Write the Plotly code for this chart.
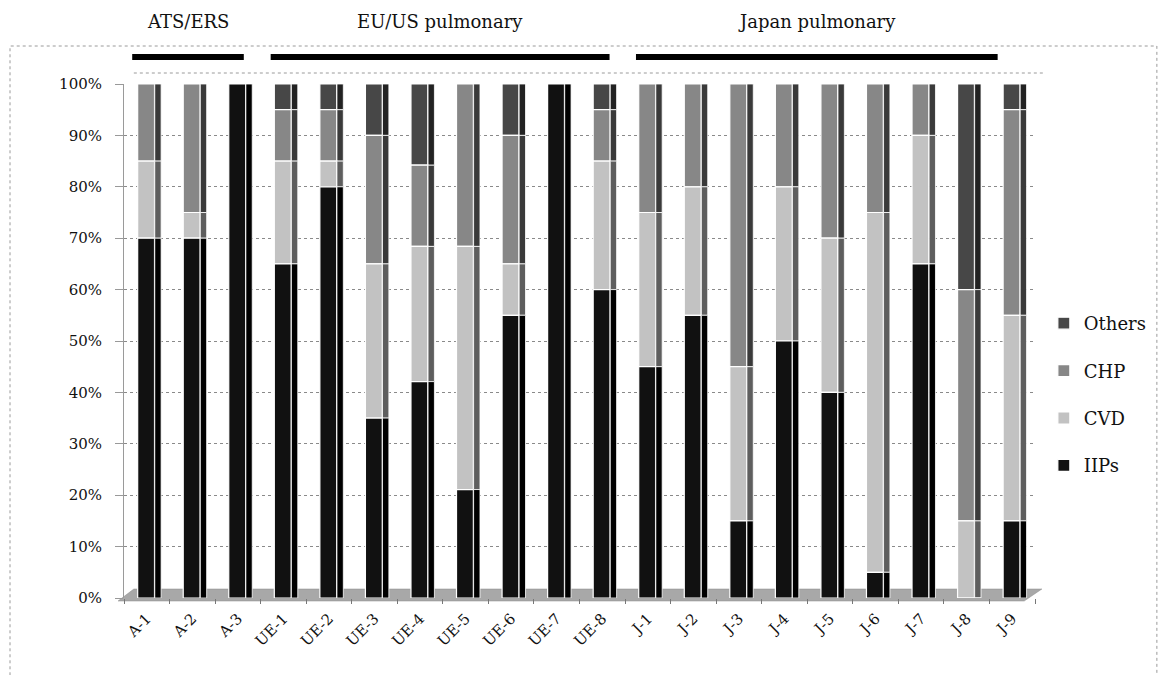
import numpy as np
import plotly.graph_objects as go

categories = ["A-1", "A-2", "A-3", "UE-1", "UE-2", "UE-3", "UE-4", "UE-5", "UE-6", "UE-7", "UE-8",
              "J-1", "J-2", "J-3", "J-4", "J-5", "J-6", "J-7", "J-8", "J-9"]
iips   = [70, 70, 100, 65, 80, 35, 42.1, 21.1, 55, 100, 60, 45, 55, 15, 50, 40, 5, 65, 0, 15]
cvd    = [15, 5, 0, 20, 5, 30, 26.3, 47.3, 10, 0, 25, 30, 25, 30, 30, 30, 70, 25, 15, 40]
chp    = [15, 25, 0, 10, 10, 25, 15.8, 31.6, 25, 0, 10, 25, 20, 55, 20, 30, 25, 10, 45, 40]
others = [0, 0, 0, 5, 5, 10, 15.8, 0, 10, 0, 5, 0, 0, 0, 0, 0, 0, 0, 40, 5]

series_names = ["IIPs", "CVD", "CHP", "Others"]
face_colors = ["#111111", "#c2c2c2", "#878787", "#474747"]
side_colors = ["#000000", "#5e5e5e", "#3a3a3a", "#222222"]

group_names = ["ATS/ERS", "EU/US pulmonary", "Japan pulmonary"]
group_spans = [(-0.32, 2.13), (2.72, 10.16), (10.74, 18.68)]

W, H = 1164, 675
ML, MR, MT, MB = 124, 113, 84, 77
PW, PH = W - ML - MR, H - MT - MB

def px_x(p):
    return (p - ML) / PW

def px_y(p):
    return (H - MB - p) / PH

values = np.array([iips, cvd, chp, others], dtype=float) / 100.0
bases = np.vstack([np.zeros(len(categories)), np.cumsum(values, axis=0)[:-1]])

fig = go.Figure()
serif = "DejaVu Serif"

# add top-of-stack series first so the legend lists Others, CHP, CVD, IIPs
for k in reversed(range(len(series_names))):
    name = series_names[k]
    fig.add_trace(go.Bar(
        x=categories, y=values[k], base=bases[k], name=name,
        offset=-0.2, width=0.37,
        marker=dict(color=face_colors[k], line=dict(color="white", width=1.2)),
        legendgroup=name, showlegend=True,
    ))
    fig.add_trace(go.Bar(
        x=categories, y=values[k], base=bases[k], name=name,
        offset=0.175, width=0.14,
        marker=dict(color=side_colors[k], line=dict(color="white", width=0.8)),
        legendgroup=name, showlegend=False, hoverinfo="skip",
    ))

shapes = []
# outer chart border
shapes.append(dict(type="rect", xref="paper", yref="paper",
                   x0=px_x(8), x1=px_x(1175), y0=px_y(690), y1=px_y(46),
                   line=dict(color="#9a9a9a", width=1, dash="dot"), layer="below"))
# back wall top line
shapes.append(dict(type="line", xref="paper", yref="paper",
                   x0=px_x(134), x1=px_x(1062), y0=px_y(73), y1=px_y(73),
                   line=dict(color="#9a9a9a", width=1, dash="dot"), layer="below"))
# floor
shapes.append(dict(type="path", xref="paper", yref="paper",
                   path=f"M {px_x(118)} {px_y(601)} L {px_x(1040)} {px_y(601)} "
                        f"L {px_x(1058)} {px_y(589)} L {px_x(134)} {px_y(589)} Z",
                   fillcolor="#a8a8a8", line=dict(color="#8a8a8a", width=0.5), layer="below"))
# group bars
for (s, e) in group_spans:
    shapes.append(dict(type="rect", xref="x", yref="paper",
                       x0=s, x1=e, y0=px_y(60), y1=px_y(54),
                       fillcolor="#000000", line=dict(width=0)))

annotations = []
for name, (s, e) in zip(group_names, group_spans):
    annotations.append(dict(x=(s + e) / 2, y=px_y(22), xref="x", yref="paper",
                            text=name, showarrow=False,
                            font=dict(family=serif, size=18, color="#111"),
                            xanchor="center", yanchor="middle"))

fig.update_layout(
    width=W, height=H,
    margin=dict(l=ML, r=MR, t=MT, b=MB),
    paper_bgcolor="white", plot_bgcolor="white",
    barmode="overlay",
    shapes=shapes, annotations=annotations,
    legend=dict(x=px_x(1060), y=px_y(305), xanchor="left", yanchor="top",
                traceorder="grouped", tracegroupgap=21,
                font=dict(family=serif, size=18, color="#111"),
                itemwidth=30, bgcolor="rgba(0,0,0,0)"),
    font=dict(family=serif, color="#111"),
)
fig.update_xaxes(
    type="category", range=[-0.5, len(categories) - 0.5],
    tickangle=-45, tickfont=dict(family=serif, size=15, color="#111"),
    showgrid=False, showline=False, ticks="outside", tickson="boundaries",
    ticklen=5, tickcolor="#777", zeroline=False, ticklabelstandoff=8,
)
fig.update_yaxes(
    range=[0, 1.0], tickformat=".0%", dtick=0.1,
    tickfont=dict(family=serif, size=15, color="#111"),
    showgrid=True, gridcolor="#8a8a8a", griddash="dot", gridwidth=1,
    showline=True, linecolor="#9a9a9a", linewidth=1,
    ticks="outside", ticklen=8, tickcolor="#999", zeroline=False,
    ticklabelstandoff=10,
)

fig.write_html("out.html")
